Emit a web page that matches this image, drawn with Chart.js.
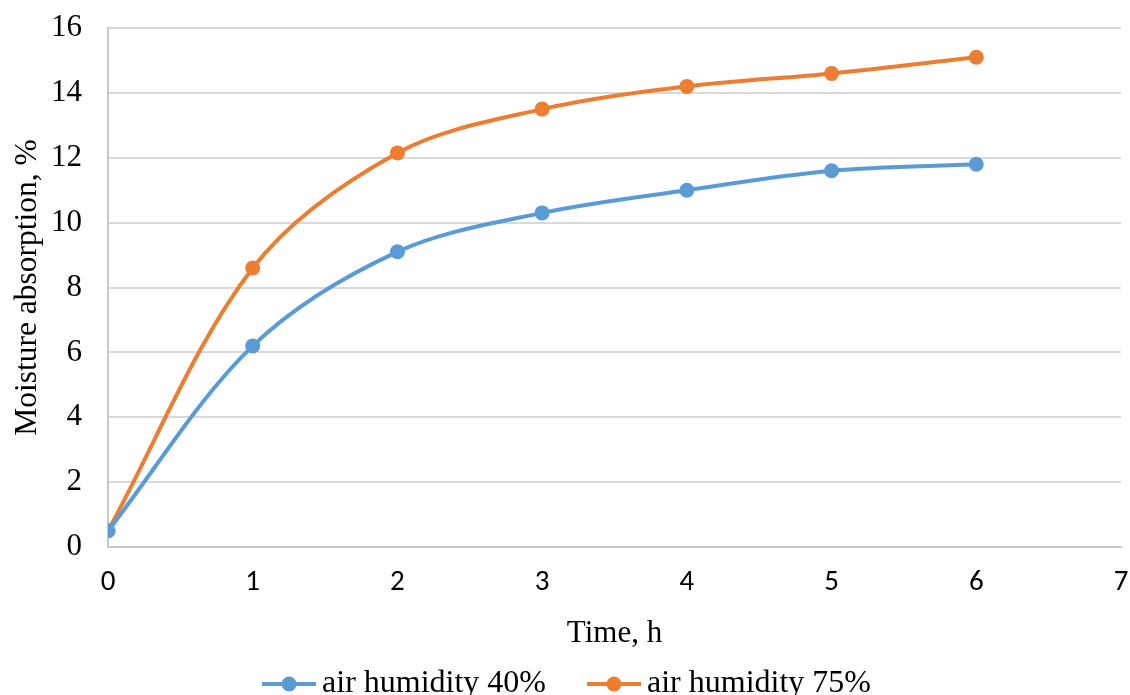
<!DOCTYPE html>
<html>
<head>
<meta charset="utf-8">
<script src="https://cdn.jsdelivr.net/npm/chart.js@4/dist/chart.umd.min.js"></script>
<style>
  html, body { margin: 0; padding: 0; background: #fff; }
  #wrap { width: 1130px; height: 695px; }
</style>
</head>
<body>
<div id="wrap"><canvas id="moistChart" width="1130" height="695"></canvas></div>
<script>
// data
const hours = [0, 1, 2, 3, 4, 5, 6]
const humidity40 = [0.5, 6.2, 9.1, 10.3, 11.0, 11.6, 11.8]
const humidity75 = [0.5, 8.6, 12.15, 13.5, 14.2, 14.6, 15.1]
const seriesNames = ['air humidity 40%', 'air humidity 75%']
const seriesColors = ['#5B9BD5', '#ED7D31']

const serif = '"Liberation Serif", "Times New Roman", serif'
const sans = 'Carlito, Lato, "Liberation Sans", sans-serif'

// legend marker: short line with a dot in the middle
function legendMarker(color) {
    const c = document.createElement('canvas')
    c.width = 56
    c.height = 18
    const g = c.getContext('2d')
    g.strokeStyle = color
    g.lineWidth = 4
    g.beginPath()
    g.moveTo(1, 9)
    g.lineTo(55, 9)
    g.stroke()
    g.fillStyle = color
    g.beginPath()
    g.arc(28, 9, 7.5, 0, Math.PI * 2)
    g.fill()
    return c
}

function toPoints(ys) {
    return hours.map((h, i) => ({ x: h, y: ys[i] }))
}

// the legend's padding is used both ways, so the gap between the two
// entries is made with no-break spaces after the first one
const gap = '\u00a0'.repeat(6)

const ctx = document.getElementById('moistChart').getContext('2d')
new Chart(ctx, {
    type: 'line',
    data: {
        datasets: [humidity40, humidity75].map((ys, i) => ({
            label: seriesNames[i],
            data: toPoints(ys),
            borderColor: seriesColors[i],
            backgroundColor: seriesColors[i],
            borderWidth: 4,
            pointRadius: 7.5,
            pointHoverRadius: 7.5,
            pointBorderWidth: 0,
            tension: 0.33,
            fill: false
        }))
    },
    options: {
        responsive: false,
        animation: false,
        // left padding is larger so the legend sits a bit right of centre
        layout: { padding: { left: 22, right: 9, top: 28, bottom: 0 } },
        plugins: {
            tooltip: { enabled: false },
            legend: {
                position: 'bottom',
                maxHeight: 30,
                labels: {
                    usePointStyle: true,
                    pointStyleWidth: 34,
                    padding: 3,
                    color: '#000',
                    font: { family: serif, size: 32, lineHeight: 1 },
                    generateLabels: (chart) => chart.data.datasets.map((ds, i) => ({
                        text: i === 0 ? ds.label + gap : ds.label,
                        pointStyle: legendMarker(seriesColors[i]),
                        fillStyle: seriesColors[i],
                        strokeStyle: seriesColors[i],
                        lineWidth: 0,
                        fontColor: '#000',
                        datasetIndex: i
                    }))
                }
            }
        },
        scales: {
            x: {
                type: 'linear',
                min: 0,
                max: 7,
                afterFit: (scale) => {
                    scale.height = 118
                    scale.paddingLeft = 0
                    scale.paddingRight = 0
                },
                ticks: { stepSize: 1, color: '#000', padding: 18, font: { family: sans, size: 29 } },
                grid: { display: false, drawTicks: false },
                border: { display: true, color: '#c8c8c8', width: 2 },
                title: {
                    display: true,
                    text: 'Time, h',
                    color: '#000',
                    padding: { top: 10, bottom: 13 },
                    font: { family: serif, size: 31 }
                }
            },
            y: {
                min: 0,
                max: 16,
                afterFit: (scale) => {
                    scale.width = 86
                    scale.paddingTop = 0
                    scale.paddingBottom = 0
                },
                ticks: { stepSize: 2, color: '#000', padding: 26, font: { family: serif, size: 31 } },
                grid: { color: '#d9d9d9', lineWidth: 2, drawTicks: false },
                border: { display: true, color: '#c8c8c8', width: 2 },
                title: {
                    display: true,
                    text: 'Moisture absorption, %',
                    color: '#000',
                    padding: { top: -13, bottom: 4 },
                    font: { family: serif, size: 31.5 }
                }
            }
        }
    }
})
</script>
</body>
</html>
